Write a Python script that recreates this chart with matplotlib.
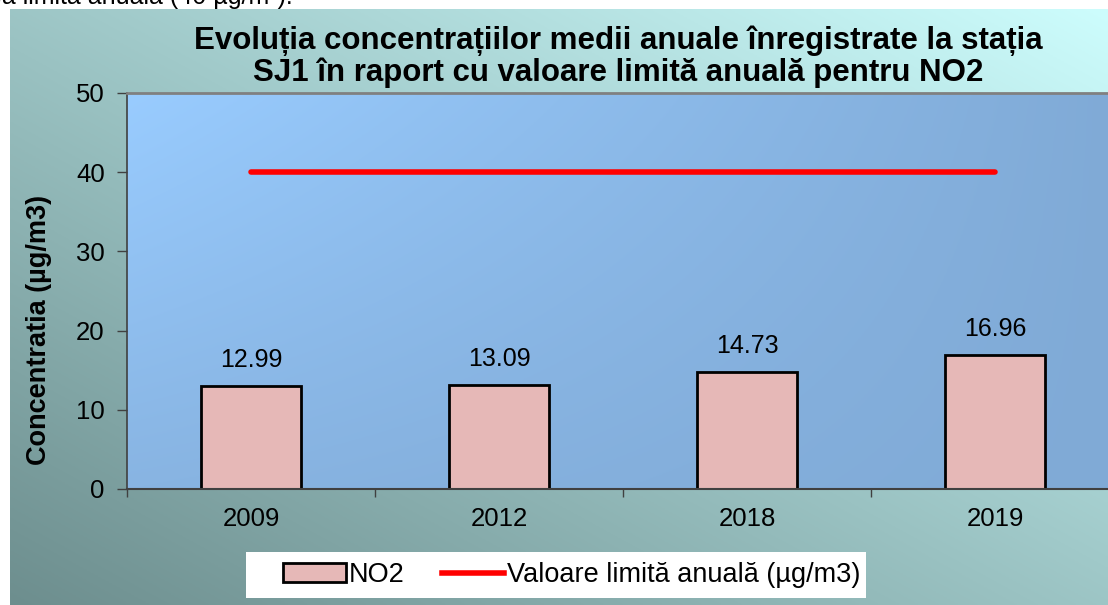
import matplotlib

matplotlib.use("Agg")
import matplotlib.pyplot as plt
import numpy as np
from matplotlib.patches import Patch, Rectangle
from matplotlib.lines import Line2D

plt.rcParams["font.family"] = ["Liberation Sans", "DejaVu Sans"]

years = ["2009", "2012", "2018", "2019"]
no2 = [12.99, 13.09, 14.73, 16.96]
limit = [40, 40, 40, 40]
title = ("Evoluția concentrațiilor medii anuale înregistrate la stația\n"
         "SJ1 în raport cu valoare limită anuală pentru NO2")

W, H = 1108, 605
fig = plt.figure(figsize=(W / 100, H / 100), dpi=100, facecolor="white")


def px(x0, y0, x1, y1):
    # pixel box (top-left origin) -> figure rect
    return [x0 / W, 1 - y1 / H, (x1 - x0) / W, (y1 - y0) / H]


# chart background: diagonal gradient, dark bottom-left -> light top-right
bg = fig.add_axes(px(10, 9, W, H), zorder=-2)
u, v = np.meshgrid(np.linspace(0, 1, 300), np.linspace(0, 1, 300))
t = (u + v) / 2
dark = np.array([109, 142, 142]) / 255
light = np.array([205, 253, 253]) / 255
img = dark[None, None, :] + t[..., None] * (light - dark)[None, None, :]
bg.imshow(img, origin="lower", extent=[0, 1, 0, 1], aspect="auto")
bg.axis("off")

# cut-off sentence from the surrounding document
fig.text(293 / W, 1 - 4 / H, "valoarea limită anuală (40 µg/m³).",
         ha="right", va="baseline", fontsize=18)

ax = fig.add_axes(px(127, 93, 1119, 489))
x = np.arange(len(years))

# plot area gradient
tl = np.array([153, 204, 255]) / 255
tr = np.array([128, 170, 214]) / 255
bl = np.array([136, 180, 226]) / 255
br = np.array([128, 170, 214]) / 255
pimg = (tl * (1 - u[..., None]) * v[..., None] + tr * u[..., None] * v[..., None]
        + bl * (1 - u[..., None]) * (1 - v[..., None])
        + br * u[..., None] * (1 - v[..., None]))
ax.imshow(pimg, origin="lower", extent=[0, 1, 0, 1], aspect="auto",
          transform=ax.transAxes, zorder=0)

ax.bar(x, no2, 0.4, color="#e6b8b7", edgecolor="black", linewidth=2, zorder=2)
ax.plot(x, limit, color="red", lw=4, solid_capstyle="round", zorder=3)
for xi, val in zip(x, no2):
    ax.annotate(f"{val:.2f}", (xi, val), xytext=(0, 10), textcoords="offset points",
                ha="center", va="bottom", fontsize=18)

ax.set_xlim(-0.5, 3.5)
ax.set_ylim(0, 50)
ax.set_yticks(range(0, 51, 10))
ax.set_xticks(x, years)
ax.set_xticks(np.arange(-0.5, 3.6, 1), minor=True)
ax.tick_params(axis="x", which="major", length=0, pad=13, labelsize=18.5)
ax.tick_params(axis="x", which="minor", length=6, width=1, color="#404040")
ax.tick_params(axis="y", length=7, width=1, pad=9, labelsize=18.5, color="#404040")

ax.spines["right"].set_visible(False)
ax.spines["top"].set_color("#808080")
ax.spines["top"].set_linewidth(2)
ax.spines["left"].set_color("#404040")
ax.spines["bottom"].set_color("#404040")
ax.spines["left"].set_linewidth(1.2)
ax.spines["bottom"].set_linewidth(1.5)

ax.set_ylabel("Concentratia (µg/m3)", fontsize=19.5, fontweight="bold")
ax.yaxis.set_label_coords((52 - 127) / 992, (489 - 330) / 396)

fig.text(618 / W, 1 - 57 / H, title, ha="center", va="center",
         fontsize=22.5, fontweight="bold", linespacing=1.05)

# legend box (white, no border)
fig.patches.append(Rectangle((246 / W, 1 - 598 / H), 620 / W, 46 / H,
                             transform=fig.transFigure, facecolor="white",
                             edgecolor="none", zorder=1))
handles = [Patch(facecolor="#e6b8b7", edgecolor="black", linewidth=2),
           Line2D([], [], color="red", lw=4)]
leg = fig.legend(handles, ["NO2", "Valoare limită anuală (µg/m3)"], loc="center",
                 bbox_to_anchor=(572 / W, 1 - 575 / H), ncol=2, fontsize=19.5,
                 frameon=False, handlelength=2.3, handletextpad=0.1,
                 columnspacing=1.4, borderpad=0, borderaxespad=0)
leg.set_zorder(2)

fig.savefig("out.png", dpi=100)
